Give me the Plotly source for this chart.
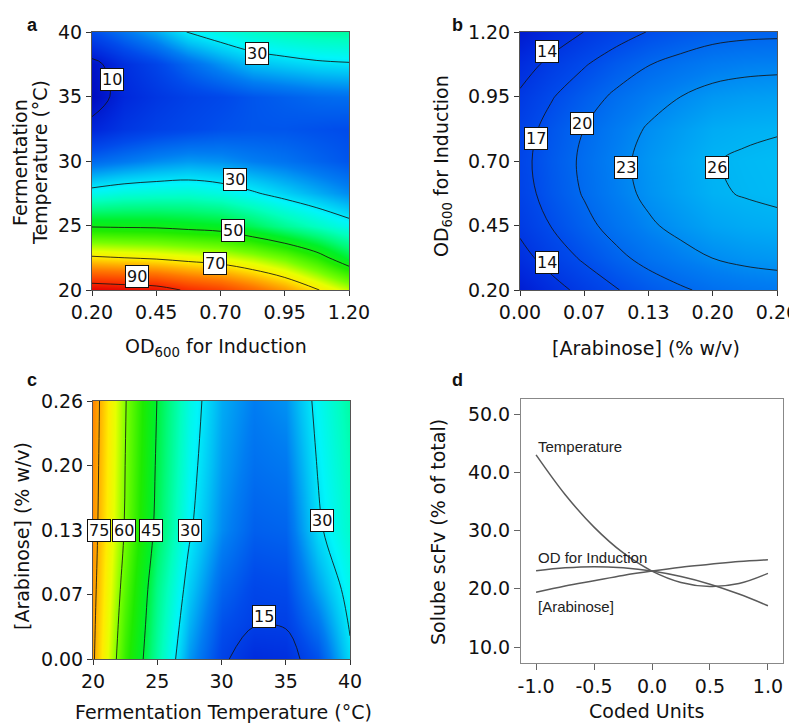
import plotly.graph_objects as go

# ---------------- data ----------------
# Panel a: Fermentation temperature (rows) x OD600 for induction (cols)
od_a = [0.2, 0.325, 0.45, 0.575, 0.7, 0.825, 0.95, 1.075, 1.2]
temp_a = [20, 22.5, 25, 27.5, 30, 32.5, 35, 37.5, 40]
z_a = [
    [95, 94, 93, 89, 86.5, 82, 77, 70.5, 64],
    [71, 70, 69, 67.5, 66, 63, 59, 53, 45],
    [49, 48.7, 48.5, 47.5, 46.5, 43, 39, 35.5, 32],
    [32, 33.5, 34, 34.2, 33, 30.6, 28, 25.5, 23],
    [20, 21.5, 23, 24, 23.5, 22, 21, 19.5, 18],
    [11.5, 14, 15.5, 16.5, 17.5, 18, 18, 17.5, 17],
    [7.5, 12, 14, 15.5, 16.5, 18, 19, 20, 20.5],
    [8.5, 13, 16, 20, 23.6, 26.7, 27.9, 29, 29.5],
    [17, 21, 25, 30.3, 33, 35, 36.5, 37.5, 38],
]
ticks_od = [0.2, 0.45, 0.7, 0.95, 1.2]
ticks_temp = [20, 25, 30, 35, 40]

# Panel b: OD600 (rows) x arabinose (cols)
arab_b = [0, 0.0325, 0.065, 0.0975, 0.13, 0.1625, 0.195, 0.2275, 0.26]
od_b = [0.2, 0.325, 0.45, 0.575, 0.7, 0.825, 0.95, 1.075, 1.2]
z_b = [
    [10.34, 12.83, 14.95, 16.84, 18.45, 19.64, 20.63, 21.24, 21.56],
    [12.90, 15.37, 17.46, 19.33, 20.91, 22.08, 23.04, 23.62, 23.92],
    [14.72, 17.16, 19.22, 21.06, 22.62, 23.76, 24.75, 25.25, 25.52],
    [15.78, 18.20, 20.23, 22.05, 23.57, 24.69, 25.75, 26.13, 26.38],
    [16.10, 18.50, 20.49, 22.29, 23.78, 24.88, 25.90, 26.26, 26.48],
    [15.66, 18.04, 20.00, 21.77, 23.24, 24.31, 25.30, 25.64, 25.84],
    [14.48, 16.83, 18.76, 20.51, 21.95, 22.99, 23.88, 24.27, 24.44],
    [12.54, 14.87, 16.77, 18.50, 19.90, 20.92, 21.75, 22.15, 22.30],
    [9.86, 12.16, 14.04, 15.74, 17.11, 18.11, 18.91, 19.28, 19.40],
]
ticks_arab = [0, 0.065, 0.13, 0.195, 0.26]
ticktext_arab = ["0.00", "0.07", "0.13", "0.20", "0.26"]

# Panel c: arabinose (rows) x temperature (cols)
temp_c = [20, 22.5, 25, 27.5, 30, 32.5, 35, 37.5, 40]
arab_c = [0, 0.035, 0.07, 0.13, 0.195, 0.26]
z_c = [
    [76, 54, 38, 24, 15.8, 12.5, 13, 17.5, 29],
    [76.5, 55.5, 39, 26, 17.5, 15.2, 15.3, 21.2, 30.5],
    [77, 57, 40, 27.8, 19.5, 16.3, 16.8, 24.5, 32],
    [77.7, 59.4, 43, 30.7, 23, 19, 19.5, 29, 35],
    [78.2, 60, 44, 32, 24.3, 20.7, 21.5, 30.3, 36.5],
    [78.7, 60.5, 44.8, 33, 25.3, 22, 23.5, 31.5, 38],
]

# Panel d: one-factor effect curves
coded = [-1, -0.75, -0.5, -0.25, 0, 0.25, 0.5, 0.75, 1]
temp_d = [43.0, 36.2, 30.6, 26.2, 23.05, 21.1, 20.4, 20.9, 22.65]
od_d = [23.1, 23.6, 23.8, 23.6, 23.05, 22.1, 20.8, 19.1, 17.1]
arab_d = [19.4, 20.5, 21.4, 22.3, 23.05, 23.7, 24.2, 24.7, 25.0]
series_names = ["Temperature", "OD for Induction", "[Arabinose]"]
ticks_coded = [-1.0, -0.5, 0.0, 0.5, 1.0]
ticktext_coded = ["-1.0", "-0.5", "0.0", "0.5", "1.0"]
ticks_scfv = [10, 20, 30, 40, 50]

# ---------------- styling ----------------
FONT = "DejaVu Sans"
TICK = 19
jet = [
    [0.00, "rgb(0,0,150)"], [0.08, "rgb(0,15,195)"], [0.12, "rgb(0,40,220)"],
    [0.17, "rgb(0,75,235)"], [0.22, "rgb(0,125,242)"], [0.27, "rgb(0,195,245)"],
    [0.31, "rgb(0,245,250)"], [0.36, "rgb(0,255,190)"], [0.41, "rgb(0,250,120)"],
    [0.46, "rgb(0,240,40)"], [0.52, "rgb(30,235,0)"], [0.60, "rgb(120,255,0)"],
    [0.66, "rgb(230,255,0)"], [0.70, "rgb(255,235,0)"], [0.75, "rgb(255,175,0)"],
    [0.80, "rgb(255,120,0)"], [0.88, "rgb(250,50,0)"], [0.95, "rgb(225,0,0)"],
    [1.00, "rgb(190,0,0)"],
]


def contour(x, y, z, start, end, size, xa, ya):
    return go.Contour(
        x=x, y=y, z=z, xaxis=xa, yaxis=ya,
        colorscale=jet, zmin=0, zmax=100, showscale=False,
        contours=dict(start=start, end=end, size=size, coloring="heatmap", showlabels=False),
        line=dict(color="rgba(20,20,20,0.85)", width=1, smoothing=1.0),
        hoverinfo="skip",
    )


fig = go.Figure()
fig.add_trace(contour(od_a, temp_a, z_a, 10, 90, 20, "x", "y"))
fig.add_trace(contour(arab_b, od_b, z_b, 14, 26, 3, "x2", "y2"))
fig.add_trace(contour(temp_c, arab_c, z_c, 15, 75, 15, "x3", "y3"))
for vals in (temp_d, od_d, arab_d):
    fig.add_trace(go.Scatter(x=coded, y=vals, mode="lines", xaxis="x4", yaxis="y4",
                             line=dict(color="#5a5a5a", width=1.5, shape="spline"),
                             showlegend=False, hoverinfo="skip"))


def ax(domain, rng, **kw):
    d = dict(domain=domain, range=rng, showgrid=False, zeroline=False, ticks="outside",
             ticklen=5, tickcolor="#333", showline=True, linecolor="#555", linewidth=1,
             mirror=True, automargin=False, ticklabeloverflow="allow",
             tickfont=dict(family=FONT, size=TICK, color="#111"))
    d.update(kw)
    return d


# the page body adds an 8 px offset; positions below are given in window pixels
OFF = 8
W, H = 797 - OFF, 725 - OFF
def px(a):
    return (a - OFF) / W
def py(a):
    return 1 - (a - OFF) / H
def dx(a, b):
    return [px(a), px(b)]
def dy(top, bottom):
    return [py(bottom), py(top)]

fig.update_layout(
    width=W, height=H, margin=dict(l=0, r=0, t=0, b=0, autoexpand=False),
    paper_bgcolor="white", plot_bgcolor="white", showlegend=False,
    font=dict(family=FONT, color="#111"),
    xaxis=ax(dx(92, 349), [0.2, 1.2], anchor="y", tickvals=ticks_od, tickformat=".2f"),
    yaxis=ax(dy(32, 290), [20, 40], anchor="x", tickvals=ticks_temp),
    xaxis2=ax(dx(520, 777), [0, 0.26], anchor="y2", tickvals=ticks_arab, ticktext=ticktext_arab),
    yaxis2=ax(dy(32, 290), [0.2, 1.2], anchor="x2", tickvals=ticks_od, tickformat=".2f"),
    xaxis3=ax(dx(93, 350), [20, 40], anchor="y3", tickvals=ticks_temp),
    yaxis3=ax(dy(401, 659), [0, 0.26], anchor="x3", tickvals=ticks_arab, ticktext=ticktext_arab),
    xaxis4=ax(dx(521, 783), [-1.13, 1.13], anchor="y4", tickvals=ticks_coded, ticktext=ticktext_coded,
              ticklen=6, linecolor="#888", tickcolor="#666"),
    yaxis4=ax(dy(399, 663), [7.26, 52.6], anchor="x4", tickvals=ticks_scfv, tickformat=".1f",
              ticklen=6, linecolor="#888", tickcolor="#666"),
)

anns = []
# panel letters
for t, lx, ly in (("a", 25, 13), ("b", 457, 13), ("c", 25, 380), ("d", 457, 380)):
    anns.append(dict(text=f"<b>{t}</b>", x=px(lx), y=py(ly), xref="paper", yref="paper",
                     showarrow=False, font=dict(family="Liberation Sans", size=18, color="#111")))
# axis titles
titles = [
    ("OD<sub>600</sub> for Induction", 216, 347, 0),
    ("[Arabinose] (% w/v)", 646, 348, 0),
    ("Fermentation Temperature (°C)", 223, 712, 0),
    ("Coded Units", 646, 711, 0),
    ("Fermentation", 20, 163, -90),
    ("Temperature (°C)", 40, 163, -90),
    ("OD<sub>600</sub> for Induction", 442, 166, -90),
    ("[Arabinose] (% w/v)", 22, 536, -90),
    ("Solube scFv (% of total)", 438, 532, -90),
]
for t, tx, ty, ang in titles:
    anns.append(dict(text=t, x=px(tx), y=py(ty), xref="paper", yref="paper",
                     showarrow=False, textangle=ang, xanchor="center", yanchor="middle",
                     font=dict(family=FONT, size=TICK, color="#111")))

# contour level labels (boxed)
def lab(text, x, y, xr, yr):
    anns.append(dict(text=text, x=x, y=y, xref=xr, yref=yr, showarrow=False,
                     bgcolor="white", bordercolor="#111", borderwidth=1, borderpad=1,
                     font=dict(family=FONT, size=16, color="#111")))

for lv, x, y in ((30, 0.841, 38.35), (10, 0.277, 36.28), (30, 0.756, 28.53),
                 (50, 0.75, 24.65), (70, 0.679, 22.07), (90, 0.374, 21.03)):
    lab(str(lv), x, y, "x", "y")
for lv, x, y in ((14, 0.027, 1.1225), (17, 0.0162, 0.7865), (20, 0.0624, 0.8446),
                 (23, 0.1072, 0.6767), (26, 0.199, 0.6767), (14, 0.027, 0.3085)):
    lab(str(lv), x, y, "x2", "y2")
for lv, x, y in ((75, 20.49, 0.13), (60, 22.41, 0.13), (45, 24.49, 0.13),
                 (30, 27.55, 0.13), (30, 37.8, 0.14), (15, 33.33, 0.0433)):
    lab(str(lv), x, y, "x3", "y3")

# panel d curve labels
for name, yv in zip(series_names, (44.4, 25.3, 16.9)):
    anns.append(dict(text=name, x=-1.0, y=yv, xref="x4", yref="y4", showarrow=False,
                     xanchor="left", yanchor="middle",
                     font=dict(family="Liberation Sans", size=15, color="#222")))

fig.update_layout(annotations=anns)
fig.write_html("out.html")
